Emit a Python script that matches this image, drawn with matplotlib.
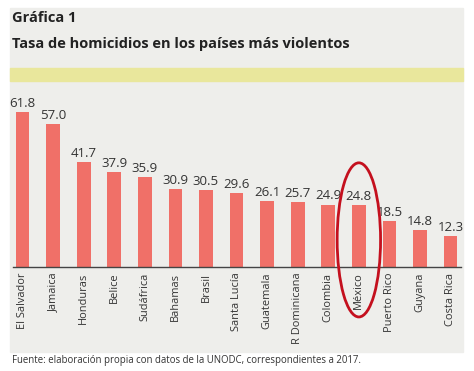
import matplotlib.pyplot as plt
from matplotlib.patches import Rectangle, Ellipse

paises = ['El Salvador', 'Jamaica', 'Honduras', 'Belice', 'Sudáfrica', 'Bahamas',
          'Brasil', 'Santa Lucía', 'Guatemala', 'R Dominicana', 'Colombia',
          'México', 'Puerto Rico', 'Guyana', 'Costa Rica']
tasas = [61.8, 57.0, 41.7, 37.9, 35.9, 30.9, 30.5, 29.6, 26.1, 25.7, 24.9,
         24.8, 18.5, 14.8, 12.3]
etiquetas = ['61.8', '57.0', '41.7', '37.9', '35.9', '30.9', '30.5', '29.6',
             '26.1', '25.7', '24.9', '24.8', '18.5', '14.8', '12.3']

W, H = 474, 371
fig = plt.figure(figsize=(W / 100, H / 100), dpi=100)
fig.patch.set_facecolor('white')

# gray panel and yellow band
fig.patches.append(Rectangle((10 / W, 1 - 352 / H), 453 / W, 344 / H,
                             transform=fig.transFigure, color='#eeeeeb', zorder=0))
fig.patches.append(Rectangle((10 / W, 1 - 81 / H), 453 / W, 13 / H,
                             transform=fig.transFigure, color='#e9e79c', zorder=1))

fig.text(12 / W, 1 - 18 / H, 'Gráfica 1', fontsize=10.5, fontweight='bold',
         color='#222222', va='center', family='Open Sans')
fig.text(12 / W, 1 - 44 / H, 'Tasa de homicidios en los países más violentos',
         fontsize=10.5, fontweight='bold', color='#222222', va='center',
         family='Open Sans')
fig.text(12 / W, 1 - 360 / H,
         'Fuente: elaboración propia con datos de la UNODC, correspondientes a 2017.',
         fontsize=6.9, color='#333333', va='center', family='Open Sans')

ax = fig.add_axes([13 / W, 1 - 267 / H, 448 / W, 180 / H])
ax.set_zorder(5)
ax.set_facecolor('none')
x = list(range(len(paises)))
ax.bar(x, tasas, width=0.45, color='#f07068', zorder=2)
ax.set_xlim(-0.31, 14.34)
ax.set_ylim(0, 180 / 2.51)

for i, (v, t) in enumerate(zip(tasas, etiquetas)):
    ax.text(i, v + 0.8, t, ha='center', va='bottom', fontsize=9.5,
            color='#333333', family='Open Sans')

for s in ['top', 'right', 'left']:
    ax.spines[s].set_visible(False)
ax.spines['bottom'].set_color('#444444')
ax.spines['bottom'].set_linewidth(1)
ax.set_yticks([])
ax.set_xticks(x)
ax.set_xticklabels(paises, rotation=90, fontsize=7.9, color='#333333',
                   family='Open Sans')
ax.tick_params(axis='x', length=0, pad=4)

ax.add_patch(Ellipse((11.0, 10.8), 1.42, 61.4, fill=False, edgecolor='#c4101e',
                     linewidth=2, clip_on=False, zorder=3))

fig.savefig('out.png', dpi=100)
